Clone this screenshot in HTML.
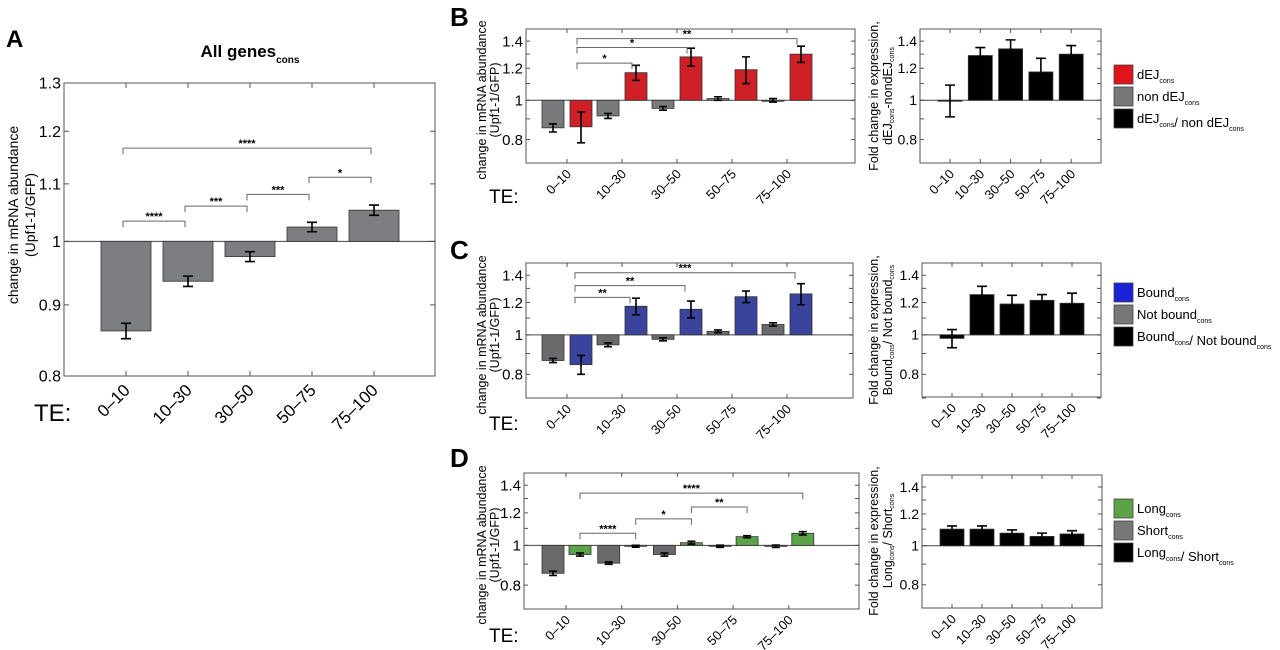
<!DOCTYPE html>
<html><head><meta charset="utf-8">
<style>
html,body{margin:0;padding:0;background:#fff;}
svg{display:block;font-family:"Liberation Sans",Arial,sans-serif;}
</style></head>
<body>
<svg id="fig" width="1280" height="650" viewBox="0 0 1280 650" xmlns="http://www.w3.org/2000/svg">
  <text x="6" y="47" font-size="24" font-weight="bold">A</text>
  <text x="450" y="26" font-size="26" font-weight="bold">B</text>
  <text x="450" y="259" font-size="26" font-weight="bold">C</text>
  <text x="450" y="467" font-size="26" font-weight="bold">D</text>
  <text x="250" y="57" font-size="17" font-weight="bold" text-anchor="middle">All genes<tspan font-size="10" dy="6">cons</tspan></text>
  <text transform="translate(18,215) rotate(-90)" font-size="14" text-anchor="middle">change in mRNA abundance</text>
  <text transform="translate(35,215) rotate(-90)" font-size="14" text-anchor="middle">(Upf1-1/GFP)</text>
  <text x="34" y="421" font-size="24">TE:</text>
  <text transform="translate(486,100) rotate(-90)" font-size="12.5" text-anchor="middle">change in mRNA abundance</text>
  <text transform="translate(499,100) rotate(-90)" font-size="12.5" text-anchor="middle">(Upf1-1/GFP)</text>
  <text x="489" y="203" font-size="19">TE:</text>
  <text transform="translate(486,335) rotate(-90)" font-size="12.5" text-anchor="middle">change in mRNA abundance</text>
  <text transform="translate(499,335) rotate(-90)" font-size="12.5" text-anchor="middle">(Upf1-1/GFP)</text>
  <text x="489" y="430" font-size="19">TE:</text>
  <text transform="translate(486,545) rotate(-90)" font-size="12.5" text-anchor="middle">change in mRNA abundance</text>
  <text transform="translate(499,545) rotate(-90)" font-size="12.5" text-anchor="middle">(Upf1-1/GFP)</text>
  <text x="489" y="642" font-size="19">TE:</text>
  <text transform="translate(878,96) rotate(-90)" font-size="12.5" text-anchor="middle">Fold change in expression,</text>
  <text transform="translate(892,96) rotate(-90)" font-size="12.5" text-anchor="middle">dEJ<tspan font-size="7" dy="2">cons</tspan><tspan dy="-2">-nondEJ</tspan><tspan font-size="7" dy="2">cons</tspan></text>
  <text transform="translate(878,330) rotate(-90)" font-size="12.5" text-anchor="middle">Fold change in expression,</text>
  <text transform="translate(892,330) rotate(-90)" font-size="12.5" text-anchor="middle">Bound<tspan font-size="7" dy="2">cons</tspan><tspan dy="-2">/ Not bound</tspan><tspan font-size="7" dy="2">cons</tspan></text>
  <text transform="translate(878,541) rotate(-90)" font-size="12.5" text-anchor="middle">Fold change in expression,</text>
  <text transform="translate(892,541) rotate(-90)" font-size="12.5" text-anchor="middle">Long<tspan font-size="7" dy="2">cons</tspan><tspan dy="-2">/ Short</tspan><tspan font-size="7" dy="2">cons</tspan></text>
</svg>
<script>
const catLabels = ["0–10","10–30","30–50","50–75","75–100"];
// Panel A
const aVals = [0.862, 0.936, 0.975, 1.024, 1.053];
const aErr = [0.011, 0.008, 0.008, 0.008, 0.009];
const aSig = [[0,1,1.034,"****"],[1,2,1.060,"***"],[2,3,1.081,"***"],[3,4,1.112,"*"],[0,4,1.167,"****"]];
// Panel B
const bGray = [0.855, 0.915, 0.955, 1.01, 1.0];
const bGrayErr = [0.02, 0.013, 0.01, 0.01, 0.01];
const bRed = [0.86, 1.17, 1.28, 1.19, 1.30];
const bRedErr = [0.075, 0.05, 0.065, 0.09, 0.06];
const bRatio = [1.0, 1.29, 1.34, 1.175, 1.30];
const bRatioErr = [0.09, 0.06, 0.07, 0.095, 0.065];
const bSig = [[0,1,1.235,"*"],[0,2,1.35,"*"],[0,4,1.42,"**"]];
// Panel C
const cGray = [0.865, 0.945, 0.975, 1.02, 1.06];
const cGrayErr = [0.01, 0.01, 0.008, 0.008, 0.01];
const cBlue = [0.845, 1.175, 1.155, 1.24, 1.26];
const cBlueErr = [0.045, 0.055, 0.055, 0.04, 0.075];
const cRatio = [0.98, 1.255, 1.19, 1.215, 1.195];
const cRatioErr = [0.05, 0.06, 0.06, 0.04, 0.07];
const cSig = [[0,1,1.235,"**"],[0,2,1.32,"**"],[0,4,1.42,"***"]];
// Panel D
const dGray = [0.855, 0.905, 0.95, 0.995, 0.995];
const dGrayErr = [0.01, 0.006, 0.008, 0.006, 0.007];
const dGreen = [0.95, 0.995, 1.015, 1.05, 1.07];
const dGreenErr = [0.008, 0.005, 0.008, 0.006, 0.01];
const dRatio = [1.10, 1.10, 1.075, 1.055, 1.07];
const dRatioErr = [0.02, 0.02, 0.02, 0.02, 0.02];
const dSig = [[0,1,1.07,"****"],[1,2,1.16,"*"],[2,3,1.24,"**"],[0,4,1.34,"****"]];

const svg = document.getElementById('fig');
const NS = "http://www.w3.org/2000/svg";
function mk(tag, attrs){ const e=document.createElementNS(NS,tag); for(const k in attrs) e.setAttribute(k,attrs[k]); svg.appendChild(e); return e; }
function logScale(lo,hi,top,bottom){ return v => bottom - (Math.log(v)-Math.log(lo))/(Math.log(hi)-Math.log(lo))*(bottom-top); }
function linX(x0,step){ return i => x0 + step*i; }

function axes(p, box, y, ticks, labTicks, xs, fs, lfs, tickLen){
  const fr = mk('rect',{x:box[0],y:box[1],width:box[2]-box[0],height:box[3]-box[1],fill:'none',stroke:'#555','stroke-width':1});
  
  
  ticks.forEach(t=>{
    const yy=y(t);
    const tk = mk('path',{d:`M${box[0]} ${yy}h${tickLen}M${box[2]} ${yy}h${-tickLen}`,stroke:'#555','stroke-width':1});
    
    
  });
  labTicks.forEach(t=>{
    const tl = mk('text',{x:box[0]-3,y:y(t)+fs*0.35,'font-size':fs,'text-anchor':'end'});
    tl.textContent = String(t);
    
    
  });
  catLabels.forEach((c,i)=>{
    const xx = xs(i);
    const tk = mk('path',{d:`M${xx} ${box[3]}v${-tickLen}M${xx} ${box[1]}v${tickLen}`,stroke:'#555','stroke-width':1});
    
    
    const tx = mk('text',{'font-size':lfs,'text-anchor':'end',transform:`translate(${xx+5},${box[3]+lfs*0.9}) rotate(-45)`});
    tx.textContent = c;
    
    
  });
  const base = mk('line',{x1:box[0],x2:box[2],y1:y(1),y2:y(1),stroke:'#444','stroke-width':1});
  
  
}
function bars(p, name, vals, errs, xs, off, w, y, fill, cap){
  vals.forEach((v,i)=>{
    const cx = xs(i)+off, y0=y(1), yv=y(v);
    const r = mk('rect',{x:cx-w/2,y:Math.min(y0,yv),width:w,height:Math.max(Math.abs(y0-yv),1),fill:fill,stroke:'#333','stroke-width':0.8});
    
    
    const e = errs[i], ya=y(v+e), yb=y(v-e);
    const eb = mk('path',{d:`M${cx} ${ya}V${yb}M${cx-cap} ${ya}h${2*cap}M${cx-cap} ${yb}h${2*cap}`,stroke:'#000','stroke-width':1.6,fill:'none'});
    
    
  });
}
function sig(p, list, xs, off, y, fs){
  list.forEach(s=>{
    const x1=xs(s[0])+off, x2=xs(s[1])+off, yy=y(s[2]);
    const br = mk('path',{d:`M${x1} ${yy+6}V${yy}H${x2}V${yy+6}`,stroke:'#666','stroke-width':1,fill:'none'});
    
    
    const t = mk('text',{x:(x1+x2)/2,y:yy-1,'font-size':fs,'font-weight':'bold','text-anchor':'middle'});
    t.textContent = s[3];
    
    
  });
}
function legend(p, y0, items){
  items.forEach((it,i)=>{
    const yy = y0 + i*22;
    const r = mk('rect',{x:1114,y:yy,width:19,height:19,fill:it[0],stroke:'#444','stroke-width':0.8});
    
    
    const t = mk('text',{x:1137,y:yy+14,'font-size':13});
    t.innerHTML = it[1];
    
    
  });
}
const sub = s => `<tspan font-size="7" dy="4">${s}</tspan><tspan dy="-4"></tspan>`;
const ticksAll = [0.7,0.8,0.9,1.0,1.1,1.2,1.3,1.4,1.5];
const labs = [0.8,1,1.2,1.4];

// A
const boxA=[64,83,435,376], yA=logScale(0.8,1.3,83,376), xA=linX(126,62);
axes('panel-a', boxA, yA, [0.8,0.9,1,1.1,1.2,1.3], [0.8,0.9,1,1.1,1.2,1.3], xA, 16, 17, 5);
bars('panel-a','all-genes',aVals,aErr,xA,0,50,yA,'#7d7e81',5);
sig('panel-a',aSig,xA,-3,yA,11);

// B
const boxB=[526,29,855,163], yB=logScale(0.7,1.5,29,163), xB=linX(567,55);
axes('panel-b', boxB, yB, ticksAll, labs, xB, 15, 13, 4);
bars('panel-b','non-dej',bGray,bGrayErr,xB,-14,22,yB,'#7a7a7c',4);
bars('panel-b','dej',bRed,bRedErr,xB,14,22,yB,'#d02027',4);
sig('panel-b',bSig,xB,10,yB,11);
const boxBR=[920,29,1101,163], xBR=linX(950,30.3);
axes('panel-b-ratio', boxBR, yB, ticksAll, labs, xBR, 14, 13, 4);
bars('panel-b-ratio','ratio',bRatio,bRatioErr,xBR,0,24,yB,'#000',5);
legend('panel-b',65,[['#e0141b','dEJ'+sub('cons')],['#777','non dEJ'+sub('cons')],['#000','dEJ'+sub('cons')+'/ non dEJ'+sub('cons')]]);

// C
const boxC=[526,263,853,398], yC=logScale(0.7,1.5,263,398), xC=linX(567,55);
axes('panel-c', boxC, yC, ticksAll, labs, xC, 15, 13, 4);
bars('panel-c','not-bound',cGray,cGrayErr,xC,-14,22,yC,'#6a6a6c',4);
bars('panel-c','bound',cBlue,cBlueErr,xC,14,22,yC,'#3a449c',4);
sig('panel-c',cSig,xC,8,yC,11);
const boxCR=[922,263,1101,397], xCR=linX(952,30);
axes('panel-c-ratio', boxCR, yC, ticksAll, labs, xCR, 14, 13, 4);
bars('panel-c-ratio','ratio',cRatio,cRatioErr,xCR,0,24,yC,'#000',5);
legend('panel-c',283,[['#1a22d8','Bound'+sub('cons')],['#777','Not bound'+sub('cons')],['#000','Bound'+sub('cons')+'/ Not bound'+sub('cons')]]);

// D
const boxD=[524,473,859,609], yD=logScale(0.7,1.5,473,609), xD=linX(566,55.7);
axes('panel-d', boxD, yD, ticksAll, labs, xD, 15, 13, 4);
bars('panel-d','short',dGray,dGrayErr,xD,-13,22,yD,'#6a6a6c',4);
bars('panel-d','long',dGreen,dGreenErr,xD,14,22,yD,'#5ca348',4);
sig('panel-d',dSig,xD,14,yD,11);
const boxDR=[922,475,1102,608], yDR=logScale(0.7,1.5,475,608), xDR=linX(952,30);
axes('panel-d-ratio', boxDR, yDR, ticksAll, labs, xDR, 14, 13, 4);
bars('panel-d-ratio','ratio',dRatio,dRatioErr,xDR,0,24,yDR,'#000',5);
legend('panel-d',499,[['#5ca348','Long'+sub('cons')],['#777','Short'+sub('cons')],['#000','Long'+sub('cons')+'/ Short'+sub('cons')]]);
</script>
</body></html>
